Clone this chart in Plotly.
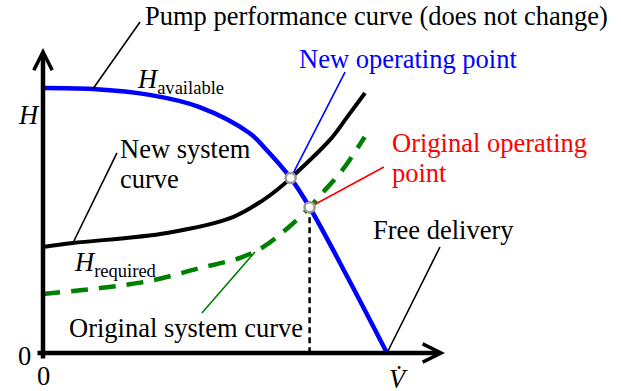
import plotly.graph_objects as go

# flow rate V and head H in arbitrary units (V = 10 is free delivery, H = 10 is shut-off head)
pump_v = [0, 1.45, 3.1, 4.55, 6.0, 6.5, 7.2, 7.75, 8.85, 10]
pump_h = [10, 9.96, 9.74, 9.28, 8.3, 7.66, 6.6, 5.5, 2.87, 0]

new_sys_v = [0, 0.87, 3.6, 5.52, 6.4, 6.8, 7.2, 8.34, 8.84, 9.36]
new_sys_h = [4.0, 4.15, 4.53, 5.13, 5.77, 6.15, 6.6, 8.04, 8.9, 9.81]

orig_sys_v = [0, 1.66, 3.1, 4.55, 5.75, 6.4, 7.1, 7.75, 8.15, 8.7, 9.35]
orig_sys_h = [2.23, 2.45, 2.72, 3.2, 3.6, 4.0, 4.7, 5.5, 6.08, 6.9, 8.15]

new_op = (7.2, 6.6)
orig_op = (7.75, 5.5)

# leader lines: (v0, h0, v1, h1, colour)
leaders = [
    (2.82, 12.49, 1.45, 9.96, "black"),    # pump curve label
    (2.15, 7.55, 0.87, 4.15, "black"),     # new system curve label
    (8.78, 10.6, 7.2, 6.6, "#0000FF"),     # new operating point
    (9.91, 7.02, 7.75, 5.5, "#FF0000"),    # original operating point
    (11.54, 4.0, 10, 0, "black"),          # free delivery
    (4.62, 1.51, 6.16, 3.81, "#008000"),   # original system curve
]

W, H = 621, 391
# pixel <-> data helpers (origin at pixel 43,353)
def dx(px):
    return (px - 43) / 34.4

def dy(py):
    return (353 - py) / 26.5

FONT = "Liberation Serif"
FS = 26.5

fig = go.Figure()

fig.add_trace(go.Scatter(x=orig_sys_v, y=orig_sys_h, mode="lines",
                         line=dict(color="#008000", width=4.5, shape="spline", dash="17px,11px")))
fig.add_trace(go.Scatter(x=new_sys_v, y=new_sys_h, mode="lines",
                         line=dict(color="black", width=4, shape="spline")))
fig.add_trace(go.Scatter(x=pump_v, y=pump_h, mode="lines",
                         line=dict(color="#0000FF", width=4.5, shape="spline")))
# drop line from original operating point
fig.add_trace(go.Scatter(x=[orig_op[0], orig_op[0]], y=[orig_op[1], 0], mode="lines",
                         line=dict(color="black", width=2.5, dash="6px,4px")))

for v0, h0, v1, h1, c in leaders:
    fig.add_trace(go.Scatter(x=[v0, v1], y=[h0, h1], mode="lines",
                             line=dict(color=c, width=1.6)))

fig.add_trace(go.Scatter(x=[new_op[0], orig_op[0]], y=[new_op[1], orig_op[1]], mode="markers",
                         marker=dict(size=10, color="white", line=dict(color="#9a9a9a", width=2.5))))

# axes with arrows
fig.add_annotation(x=dx(445), y=0, ax=dx(36), ay=0, xref="x", yref="y", axref="x", ayref="y",
                   text="", showarrow=True, arrowhead=5, arrowsize=0.8, arrowwidth=4.5, arrowcolor="black")
fig.add_annotation(x=0, y=dy(48), ax=0, ay=dy(360), xref="x", yref="y", axref="x", ayref="y",
                   text="", showarrow=True, arrowhead=5, arrowsize=0.8, arrowwidth=4.5, arrowcolor="black")

# texts: (text, left px, baseline px, colour)
labels = [
    ("Pump performance curve (does not change)", 145, 25, "black"),
    ("<i>H</i><sub>available</sub>", 137, 90, "black"),
    ("<i>H</i>", 18, 124, "black"),
    ("New system", 120, 158, "black"),
    ("curve", 120, 188, "black"),
    ("New operating point", 299, 68, "#0000FF"),
    ("Original operating", 392, 152, "#FF0000"),
    ("point", 392, 182, "#FF0000"),
    ("Free delivery", 373, 239, "black"),
    ("<i>H</i><sub>required</sub>", 74, 273, "black"),
    ("Original system curve", 69, 337, "black"),
    ("0", 18, 365, "black"),
    ("0", 37, 385, "black"),
    ("<i>V\u0307</i>", 389, 388, "black"),
]
for t, lx, bl, c in labels:
    fig.add_annotation(x=dx(lx - 2), y=dy(bl - 9), xref="x", yref="y", text=t, showarrow=False,
                       xanchor="left", yanchor="middle", font=dict(family=FONT, size=FS, color=c))

fig.update_xaxes(visible=False, range=[dx(0), dx(W)])
fig.update_yaxes(visible=False, range=[dy(H), dy(0)])
fig.update_layout(width=W, height=H, margin=dict(l=0, r=0, t=0, b=0), showlegend=False,
                  paper_bgcolor="white", plot_bgcolor="white")

fig.write_html("out.html", config={"displayModeBar": False},
               post_script="document.body.style.margin='0';")
